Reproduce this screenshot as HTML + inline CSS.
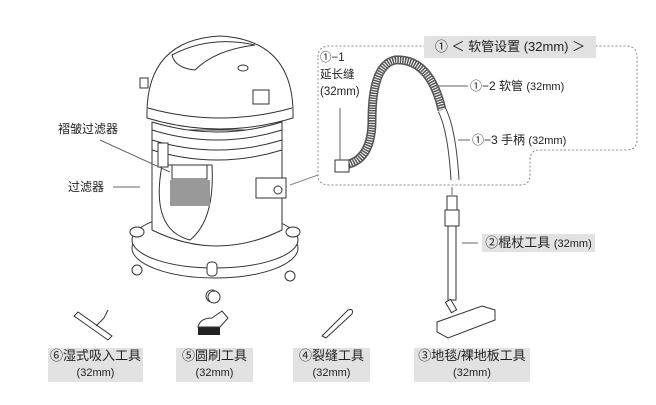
<!DOCTYPE html>
<html><head><meta charset="utf-8"><style>
html,body{margin:0;padding:0;background:#fff;}
body{width:656px;height:405px;overflow:hidden;position:relative;font-family:"Liberation Sans","Noto Sans CJK SC",sans-serif;color:#222;}
.t{position:absolute;white-space:nowrap;font-size:12px;line-height:14px;}
.box{position:absolute;background:#e2e2e2;text-align:center;font-size:13px;line-height:16px;}
.box span{font-size:11px;}
</style></head><body>
<svg width="656" height="405" style="position:absolute;left:0;top:0" fill="none" stroke="#333" stroke-width="1">
<path d="M318 57 Q318 46 330 46 L626 46 Q637 46 637 57 L637 140 Q637 150 626 150 L540 150 Q530 150 530 160 L530 175 Q530 185 520 185 L330 185 Q318 185 318 175 Z" stroke="#888" stroke-dasharray="2,2"/>
<line x1="318" y1="175" x2="290" y2="185" stroke="#888"/>
<!-- base -->
<ellipse cx="215" cy="248" rx="83" ry="30" fill="#fff"/>
<ellipse cx="215" cy="240" rx="83" ry="28" fill="#fff"/>
<ellipse cx="137" cy="232" rx="7" ry="5" fill="#fff"/>
<ellipse cx="293" cy="232" rx="7" ry="5" fill="#fff"/>
<circle cx="137" cy="270" r="5" fill="#fff"/>
<circle cx="290" cy="276" r="5" fill="#fff"/>
<circle cx="212" cy="296" r="6" fill="#fff"/>
<rect x="207" y="262" width="10" height="14" rx="4" fill="#fff"/>
<!-- body -->
<path d="M152 130 L152 230 Q217 262 282 230 L282 130 Z" fill="#fff"/>
<path d="M162 165 Q150 230 190 240 Q215 220 212 165 Z" fill="#fff"/>
<rect x="170" y="180" width="40" height="26" fill="#999" stroke="none"/>
<path d="M152 150 Q217 170 282 150" />
<path d="M152 122 Q217 142 282 122 L282 140 Q217 160 152 140 Z" fill="#fff"/>
<path d="M152 130 Q217 150 282 130" />
<rect x="158" y="143" width="10" height="24" fill="#fff"/>
<rect x="172" y="165" width="35" height="14" fill="#fff"/>
<rect x="256" y="178" width="30" height="20" fill="#fff"/>
<circle cx="278" cy="190" r="4"/>
<!-- dome -->
<path d="M147 118 Q145 40 220 36 Q295 40 293 118 Q220 140 147 118 Z" fill="#fff"/>
<path d="M148 108 Q220 128 292 108" />
<path d="M172 55 Q210 35 255 45 Q215 50 195 70 Q175 68 172 55 Z" fill="#fff"/>
<ellipse cx="243" cy="68" rx="5" ry="3"/>
<rect x="253" y="90" width="16" height="14" fill="#fff"/>
<rect x="140" y="78" width="8" height="10" fill="#fff"/>
<line x1="100" y1="140" x2="170" y2="172" stroke="#666"/>
<line x1="113" y1="187" x2="140" y2="187" stroke="#666"/>
<!-- hose -->
<path d="M345 165 Q372 160 372 120 Q372 65 395 60 Q430 58 442 110" stroke="#555" stroke-width="9"/>
<path d="M345 165 Q372 160 372 120 Q372 65 395 60 Q430 58 442 110" stroke="#fff" stroke-width="6" stroke-dasharray="1,1.5"/>
<rect x="335" y="160" width="14" height="12" fill="#fff"/>
<path d="M442 110 Q452 130 455 180" stroke="#444" stroke-width="9"/>
<path d="M442 110 Q452 130 455 180" stroke="#fff" stroke-width="7"/>
<line x1="340" y1="108" x2="340" y2="160" stroke="#666"/>
<line x1="434" y1="86" x2="468" y2="86" stroke="#666"/>
<line x1="458" y1="140" x2="470" y2="140" stroke="#666"/>
<line x1="452" y1="187" x2="452" y2="195" stroke="#666"/>
<rect x="447" y="196" width="10" height="14" fill="#fff"/>
<rect x="445" y="210" width="14" height="16" fill="#fff"/>
<rect x="448" y="226" width="8" height="74" fill="#fff"/>
<line x1="462" y1="243" x2="478" y2="243" stroke="#666"/>
<!-- floor tool -->
<path d="M437 322 L482 306 L495 310 L495 320 L448 338 L437 332 Z" fill="#fff"/>
<rect x="448" y="300" width="6" height="12" fill="#fff" transform="rotate(-30 451 306)"/>
<!-- wet tool -->
<path d="M74 316 L108 340 L112 336 L78 312 Z" fill="#fff"/>
<path d="M96 326 L104 318 L108 310" />
<!-- brush -->
<rect x="198" y="327" width="22" height="8" fill="#222" stroke="none"/>
<path d="M198 327 Q200 318 212 318 L222 311 L228 318 L220 327 Z" fill="#fff"/>
<circle cx="214" cy="297" r="6" fill="#fff"/>
<!-- crevice -->
<path d="M322 336 L348 310 Q354 308 352 314 L326 338 Z" fill="#fff"/>
</svg>
<div class="t" style="left:58px;top:122px">褶皱过滤器</div>
<div class="t" style="left:68px;top:180px">过滤器</div>
<div class="box" style="left:424px;top:36px;width:172px;height:22px;line-height:22px;font-size:13px">① ＜ 软管设置 (32mm) ＞</div>
<div class="t" style="left:320px;top:50px;line-height:17px;font-size:11.5px">①−1<br>延长缝<br>(32mm)</div>
<div class="t" style="left:470px;top:79px">①−2 软管 <span style="font-size:11px">(32mm)</span></div>
<div class="t" style="left:472px;top:133px">①−3 手柄 <span style="font-size:11px">(32mm)</span></div>
<div class="box" style="left:482px;top:234px;width:113px;height:18px;line-height:18px">②棍杖工具 <span>(32mm)</span></div>
<div class="box" style="left:48px;top:348px;width:95px;height:34px">⑥湿式吸入工具<br><span>(32mm)</span></div>
<div class="box" style="left:176px;top:348px;width:77px;height:34px">⑤圆刷工具<br><span>(32mm)</span></div>
<div class="box" style="left:293px;top:348px;width:77px;height:34px">④裂缝工具<br><span>(32mm)</span></div>
<div class="box" style="left:414px;top:348px;width:116px;height:34px">③地毯/裸地板工具<br><span>(32mm)</span></div>
</body></html>
